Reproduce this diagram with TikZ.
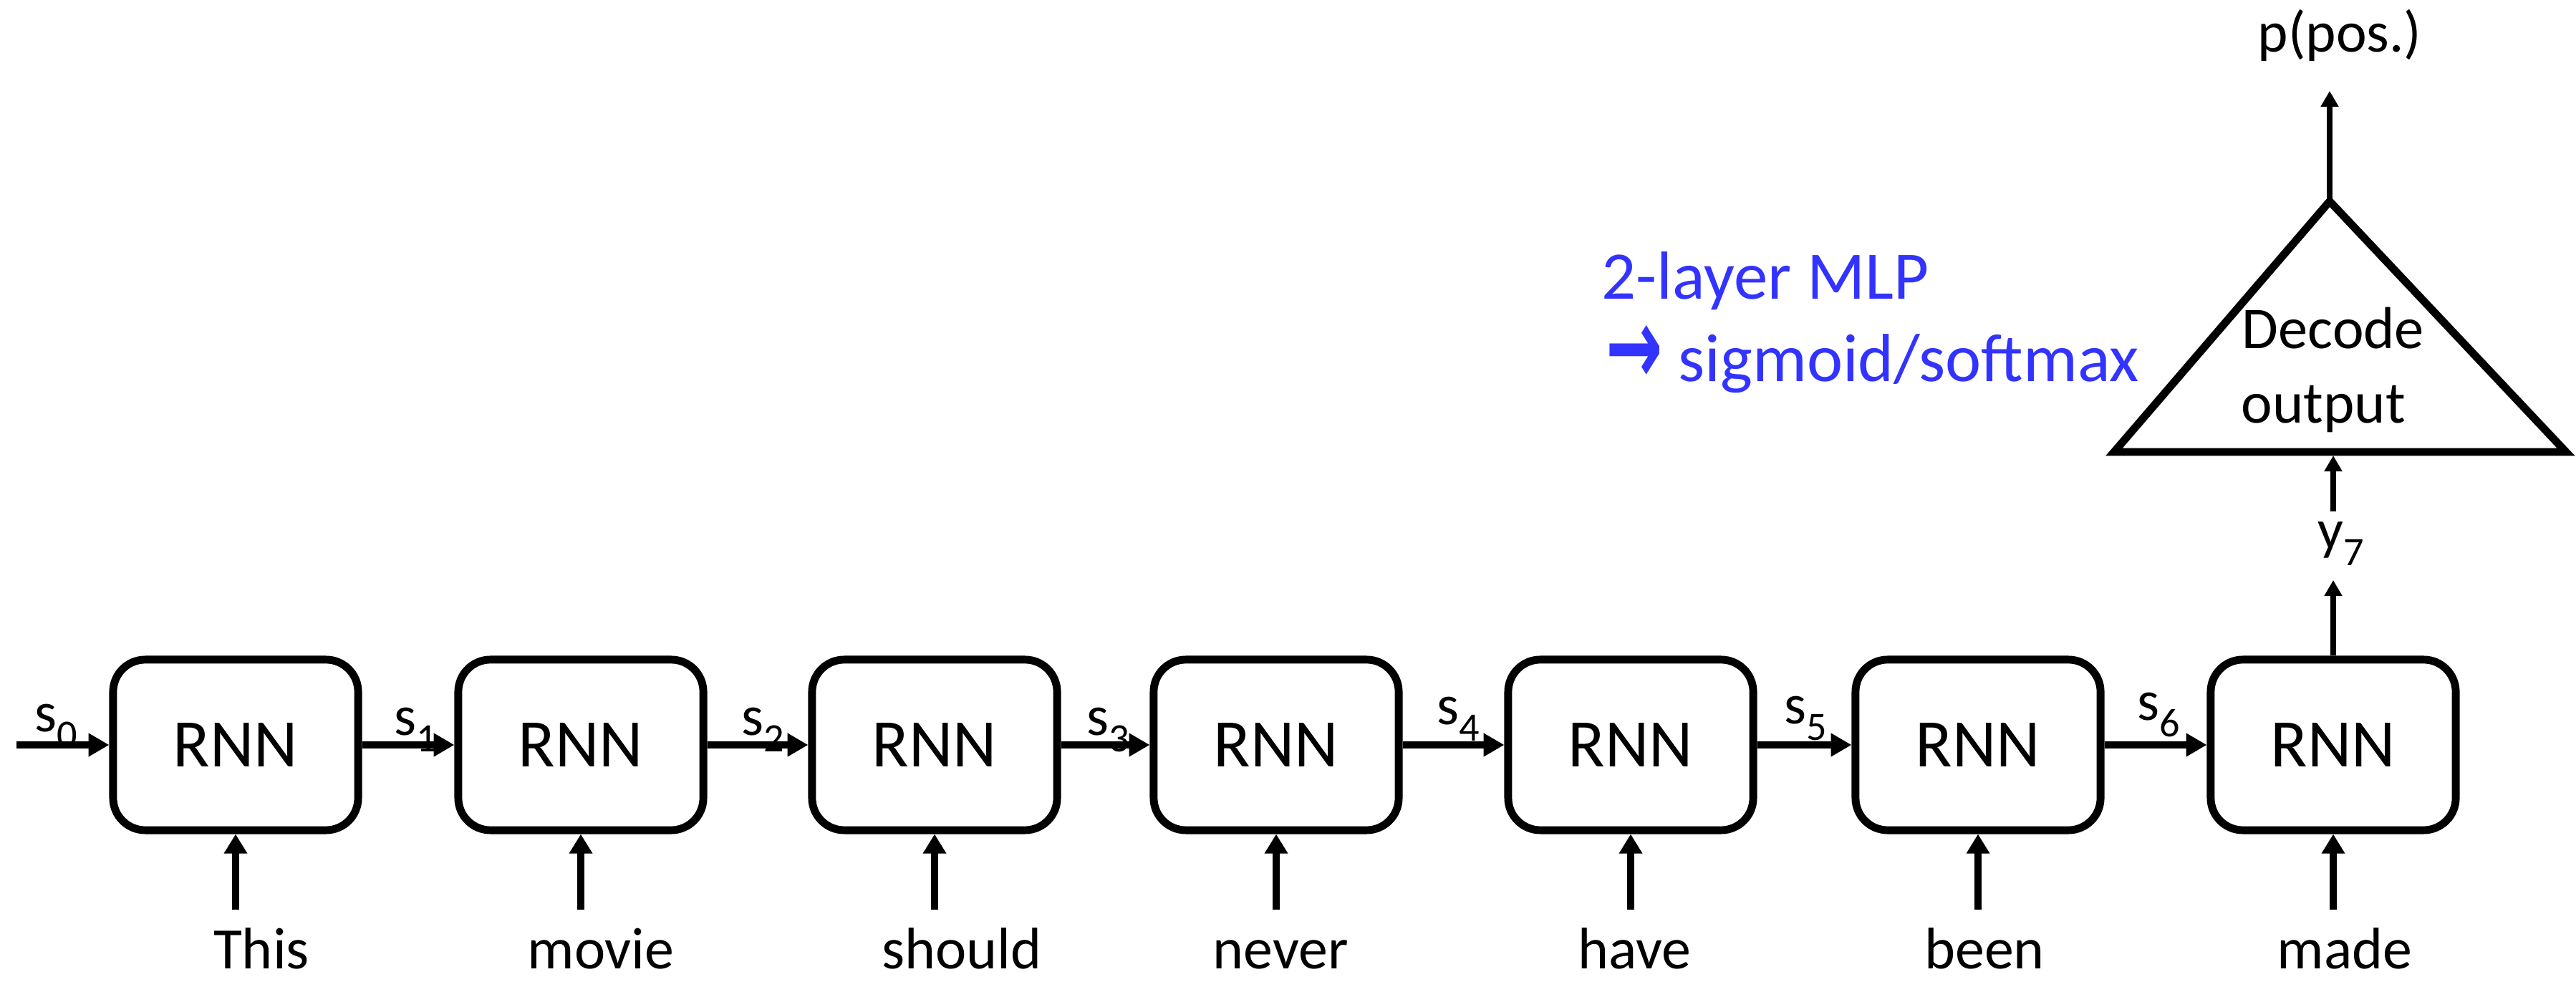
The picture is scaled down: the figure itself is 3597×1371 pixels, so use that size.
\documentclass[tikz,border=0pt]{standalone}
\usepackage{fontspec}
\setmainfont{Carlito}
\newfontfamily\arrowfont{DejaVu Sans}
\usetikzlibrary{arrows.meta}
\definecolor{mlpblue}{RGB}{51,51,255}
\newcommand{\subtxt}[1]{\raisebox{-6.3pt}{\fontsize{16pt}{16pt}\selectfont #1}}
\begin{document}
\begin{tikzpicture}[x=0.01cm,y=-0.01cm,
  rnn/.style={draw, line width=3.1pt, rounded corners=0.45cm, minimum width=3.42cm,
    minimum height=2.38cm, inner sep=0pt, font=\fontsize{27pt}{30pt}\selectfont},
  word/.style={anchor=base, inner sep=0pt, font=\fontsize{23.3pt}{28pt}\selectfont},
  slab/.style={anchor=base west, inner sep=0pt, font=\fontsize{22.5pt}{26pt}\selectfont},
  txt/.style={inner sep=0pt, font=\fontsize{23.5pt}{28pt}\selectfont},
  blue/.style={anchor=base west, inner sep=0pt, text=mlpblue, font=\fontsize{27pt}{32pt}\selectfont},
  sarrow/.style={line width=3.1pt, -{Triangle[length=8.2pt,width=8.8pt]}},
  inarrow/.style={line width=3.1pt, -{Triangle[length=7.7pt,width=8.8pt]}},
  outarrow/.style={line width=2.5pt, -{Triangle[length=6.3pt,width=6.8pt]}}]
\useasboundingbox (0,0) rectangle (3597,1371);
% RNN boxes
\node[rnn] (b1) at (329,1040) {RNN};
\node[rnn] (b2) at (811,1040) {RNN};
\node[rnn] (b3) at (1305,1040) {RNN};
\node[rnn] (b4) at (1782,1040) {RNN};
\node[rnn] (b5) at (2277,1040) {RNN};
\node[rnn] (b6) at (2762,1040) {RNN};
\node[rnn] (b7) at (3258,1040) {RNN};
% state arrows
\coordinate (s0start) at (23,1040);
\draw[sarrow] (s0start) -- (b1.west);
\draw[sarrow] (b1.east) -- (b2.west);
\draw[sarrow] (b2.east) -- (b3.west);
\draw[sarrow] (b3.east) -- (b4.west);
\draw[sarrow] (b4.east) -- (b5.west);
\draw[sarrow] (b5.east) -- (b6.west);
\draw[sarrow] (b6.east) -- (b7.west);
\node[slab] (l0) at (48,1022) {s\subtxt{0}};
\node[slab] (l1) at (550,1027) {s\subtxt{1}};
\node[slab] (l2) at (1035,1027) {s\subtxt{2}};
\node[slab] (l3) at (1517,1027) {s\subtxt{3}};
\node[slab] (l4) at (2006,1012) {s\subtxt{4}};
\node[slab] (l5) at (2491,1011) {s\subtxt{5}};
\node[slab] (l6) at (2984,1006) {s\subtxt{6}};
% inputs
\coordinate (i1) at (329,1270);
\coordinate (i2) at (811,1270);
\coordinate (i3) at (1305,1270);
\coordinate (i4) at (1782,1270);
\coordinate (i5) at (2277,1270);
\coordinate (i6) at (2762,1270);
\coordinate (i7) at (3258,1270);
\draw[inarrow] (i1) -- (b1.south);
\draw[inarrow] (i2) -- (b2.south);
\draw[inarrow] (i3) -- (b3.south);
\draw[inarrow] (i4) -- (b4.south);
\draw[inarrow] (i5) -- (b5.south);
\draw[inarrow] (i6) -- (b6.south);
\draw[inarrow] (i7) -- (b7.south);
\node[word] (w1) at (365,1352) {This};
\node[word] (w2) at (839,1352) {movie};
\node[word] (w3) at (1343,1352) {should};
\node[word] (w4) at (1788,1352) {never};
\node[word] (w5) at (2282,1352) {have};
\node[word] (w6) at (2771,1352) {been};
\node[word] (w7) at (3274,1352) {made};
% output
\coordinate (y7tip) at (3258,810);
\draw[outarrow] (b7.north) -- (y7tip);
\node[slab] (y7) at (3236,767) {y\subtxt{7}};
\coordinate (y7top) at (3258,714);
\coordinate (tb) at (3258,636);
\draw[outarrow] (y7top) -- (tb);
% decoder triangle
\coordinate (tl) at (2952,631);
\coordinate (ta) at (3253,281);
\coordinate (tr) at (3583,631);
\draw[line width=3.1pt, line join=miter, miter limit=10] (tl) -- (ta) -- (tr) -- cycle;
\node[txt, anchor=base west] (dec) at (3130,487) {Decode};
\node[txt, anchor=base west] (outp) at (3129,591) {output};
\coordinate (pt) at (3253,127);
\draw[outarrow] (ta) -- (pt);
\node[txt, anchor=base, font=\fontsize{23pt}{28pt}\selectfont] (p) at (3267,73) {p(pos.)};
% MLP annotation
\node[blue] (mlp1) at (2236,418) {2-layer MLP};
\node[blue] (mlp2) at (2242,533) {{\arrowfont\bfseries\raisebox{-1pt}{\scalebox{1}[1.6]{→}}} sigmoid/softmax};
\end{tikzpicture}
\end{document}
